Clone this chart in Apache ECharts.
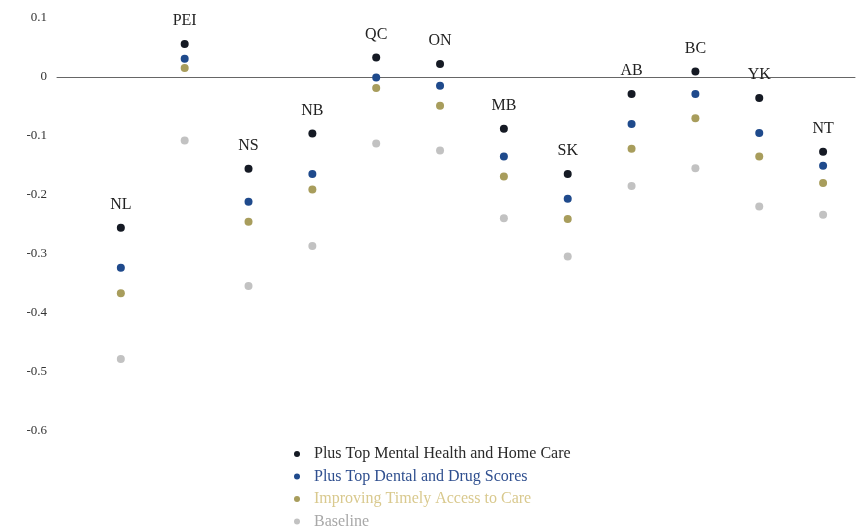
<!DOCTYPE html>
<html><head><meta charset="utf-8">
<script src="https://cdn.jsdelivr.net/npm/echarts@6/dist/echarts.min.js"></script>
<style>html,body{margin:0;padding:0;background:#fff}#c{width:857px;height:532px}</style>
</head><body><div id="c"></div>
<script>
const provinces = ['NL','PEI','NS','NB','QC','ON','MB','SK','AB','BC','YK','NT'];
const mentalHome   = [-0.256, 0.056,-0.156,-0.096, 0.033, 0.022,-0.088,-0.165,-0.029, 0.009,-0.036,-0.127];
const dentalDrug   = [-0.324, 0.031,-0.212,-0.165,-0.001,-0.015,-0.135,-0.207,-0.080,-0.029,-0.095,-0.151];
const timelyAccess = [-0.367, 0.015,-0.246,-0.191,-0.019,-0.049,-0.169,-0.241,-0.122,-0.070,-0.135,-0.180];
const baseline     = [-0.479,-0.108,-0.355,-0.287,-0.113,-0.125,-0.240,-0.305,-0.185,-0.155,-0.220,-0.234];
const seriesNames = ['Plus Top Mental Health and Home Care','Plus Top Dental and Drug Scores','Improving Timely Access to Care','Baseline'];
const seriesColors = ['#151a24','#1f4a8c','#a89d5c','#c2c2c2'];
const legendTextColors = ['#2a2a2a','#2f4f8f','#d9c98e','#a8a8a8'];

const serif = '"Liberation Serif","DejaVu Serif",serif';
const values = [mentalHome, dentalDrug, timelyAccess, baseline];
const chart = echarts.init(document.getElementById('c'));
const series = values.map((arr, k) => ({
  name: seriesNames[k],
  type: 'scatter',
  symbolSize: 8,
  z: 10 - k,
  itemStyle: {color: seriesColors[k], opacity: 1},
  data: arr.map((v, i) => [i, v]),
  label: k === 0 ? {
    show: true, position: 'top', distance: 11,
    formatter: p => provinces[p.dataIndex],
    fontFamily: serif, fontSize: 16, color: '#222'
  } : {show: false}
}));
chart.setOption({
  animation: false,
  backgroundColor: '#fff',
  grid: {left: 57, right: 2, top: 18, bottom: 101.6},
  xAxis: {
    type: 'value', min: -1, max: 11.5,
    axisLine: {show: true, onZero: true, lineStyle: {color: '#666', width: 1}},
    axisTick: {show: false}, axisLabel: {show: false}, splitLine: {show: false}
  },
  yAxis: {
    type: 'value', min: -0.6, max: 0.1, interval: 0.1,
    axisLine: {show: false}, axisTick: {show: false}, splitLine: {show: false},
    axisLabel: {
      margin: 10, fontFamily: serif, fontSize: 13, color: '#333',
      formatter: v => String(Math.round(v * 10) / 10)
    }
  },
  legend: {
    orient: 'vertical', left: 294, top: 446, padding: 0,
    itemWidth: 6, itemHeight: 6, itemGap: 6.5, icon: 'circle',
    textStyle: {fontFamily: serif, fontSize: 16, lineHeight: 15, padding: [0, 0, 0, 9]},
    data: seriesNames.map((n, k) => ({name: n, textStyle: {color: legendTextColors[k]}}))
  },
  series: series
});
</script></body></html>
